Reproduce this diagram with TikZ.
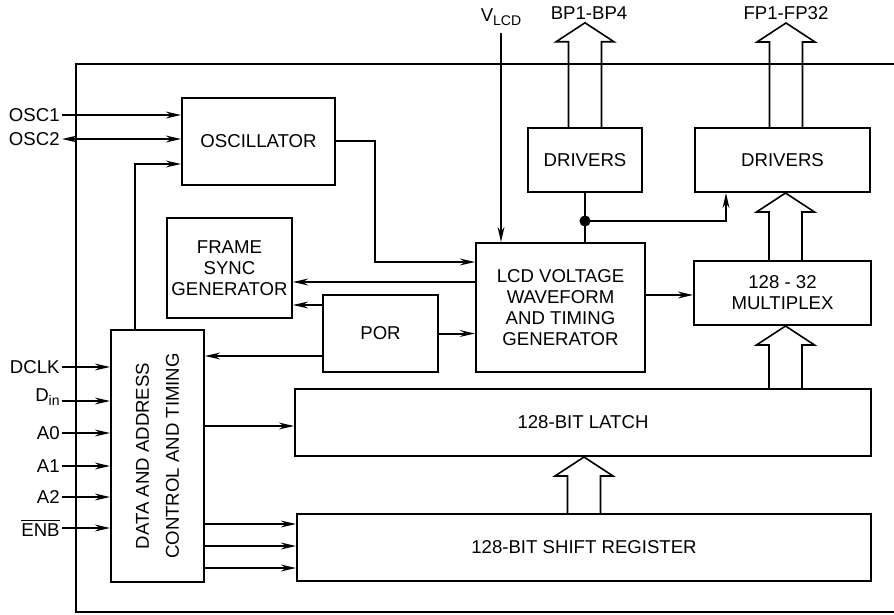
\documentclass[tikz,border=0pt]{standalone}
\usepackage{amsmath}
\usepackage{fontspec}
\setmainfont{Liberation Sans}
\usepackage{tikz}
\usetikzlibrary{arrows.meta,calc,positioning}

% lowered small text for pin names
\newcommand{\lowtext}[1]{\raisebox{-0.45ex}{\fontsize{7}{8}\selectfont #1}}
% hollow bus arrow from #1 (open end) up to #2 (tip)
\newcommand{\busarrow}[2]{%
  \draw[bus] ($(#1)+(-8.25pt,0)$) -- ($(#2)+(-8.25pt,-9.5pt)$) -- ++(-6.25pt,0) -- (#2)
    -- ++(14.5pt,-9.5pt) -- ++(-6.25pt,0) -- ($(#1)+(8.25pt,0)$);}

\begin{document}
\begin{tikzpicture}[x=0.5pt,y=-0.5pt,font=\fontsize{9.3}{10.5}\selectfont,
  >={Stealth[length=7.5pt,width=3.4pt]},
  blk/.style={draw,line width=1pt,align=center,inner sep=2pt},
  pin/.style={inner sep=1pt},
  sig/.style={line width=1pt},
  bus/.style={line width=0.8pt,line join=miter}]
  \useasboundingbox (0,0) rectangle (894,615);
  % chip outline, runs off the right edge
  \draw[line width=0.7pt] (894,64) -| (76,612) -- (894,612);

  \node[blk,minimum width=76.5pt,minimum height=43.5pt] (osc) at (258.5,141.5) {OSCILLATOR};
  \node[blk,minimum width=62.5pt,minimum height=50pt] (fsync) at (229.5,268) {FRAME\\SYNC\\GENERATOR};
  \node[blk,minimum width=57.5pt,minimum height=38.5pt] (por) at (380.5,333.5) {POR};
  \node[blk,minimum width=84.5pt,minimum height=64.5pt] (lcd) at (560.5,307.5) {LCD VOLTAGE\\WAVEFORM\\AND TIMING\\GENERATOR};
  \node[blk,minimum width=57pt,minimum height=32pt] (bpdrv) at (585,160) {DRIVERS};
  \node[blk,minimum width=87.5pt,minimum height=32pt] (fpdrv) at (782.5,160) {DRIVERS};
  \node[blk,minimum width=88.5pt,minimum height=32pt] (mux) at (782.5,293) {128 - 32\\MULTIPLEX};
  \node[blk,minimum width=46.5pt,minimum height=126pt] (ctrl) at (157.5,456) {};
  \node[rotate=90,align=center,font=\fontsize{9.3}{15}\selectfont] (ctrltxt) at (ctrl.center) {DATA AND ADDRESS\\CONTROL AND TIMING};
  \node[blk,minimum width=288pt,minimum height=33.5pt] (latch) at (583,422.5) {128-BIT LATCH};
  \node[blk,minimum width=287pt,minimum height=33.5pt] (shift) at (584,547.5) {128-BIT SHIFT REGISTER};

  % pins on the left
  \node[pin,anchor=east] (osc1) at (62,115) {OSC1};
  \node[pin,anchor=east] (osc2) at (62,139) {OSC2};
  \draw[sig,->] (osc1.east) -- (osc1.east -| osc.west);
  \draw[sig,<->] (osc2.east) -- (osc2.east -| osc.west);
  \foreach \nm/\txt/\yy in {dclk/DCLK/367,a0/A0/433,a1/A1/466,a2/A2/497}{
    \node[pin,anchor=east] (\nm) at (62,\yy) {\txt};
    \draw[sig,->] (\nm.east) -- (\nm.east -| ctrl.west);
  }
  \node[pin,anchor=base east] (din) at (62,401) {D\lowtext{in}};
  \draw[sig,->] (din.base east) -- (din.base east -| ctrl.west);
  \node[pin,anchor=east] (enb) at (62,528) {$\overline{\text{ENB}}$};
  \draw[sig,->] (enb.east) -- (enb.east -| ctrl.west);

  % internal signals
  \draw[sig,->] ([xshift=12.5pt]ctrl.north west) |- ([yshift=-11.25pt]osc.west);
  \draw[sig,->] (osc.east) -- ++(39,0) |- ([yshift=22.75pt]lcd.west);
  \draw[sig,->] ([yshift=12.75pt]lcd.west) coordinate (l1) -- (l1 -| fsync.east);
  \draw[sig,->] ([yshift=14.25pt]por.west) coordinate (p1) -- (p1 -| fsync.east);
  \draw[sig,->] (por.east) -- (por.east -| lcd.west);
  \draw[sig,->] ([yshift=-11.25pt]por.west) coordinate (p2) -- (p2 -| ctrl.east);
  \draw[sig,->] ([yshift=6.25pt]lcd.east) coordinate (l2) -- (l2 -| mux.west);
  \draw[sig,->] ([yshift=15pt]ctrl.east) coordinate (c1) -- (c1 -| latch.west);
  \foreach \dy in {34,45,56}
    \draw[sig,->] ([yshift=-\dy pt]ctrl.east) coordinate (c2) -- (c2 -| shift.west);

  % supply and driver outputs
  \node (vlcd) at (501,17) {V\lowtext{LCD}};
  \draw[sig,->] (vlcd.south) -- (vlcd.south |- lcd.north);
  \draw[sig] (bpdrv.south) -- (bpdrv.south |- lcd.north);
  \coordinate (jn) at ([yshift=-14pt]bpdrv.south);
  \fill (jn) circle (2.8pt);
  \draw[sig,->] (jn) -| ([xshift=16pt]fpdrv.south west);

  \node[inner sep=1.5pt] (bplbl) at (589,13) {BP1-BP4};
  \node[inner sep=1.5pt] (fplbl) at (786,13) {FP1-FP32};
  \busarrow{bpdrv.north}{bpdrv.north |- bplbl.south}
  \coordinate (f1) at ([xshift=1.75pt]fpdrv.north);
  \busarrow{f1}{f1 |- fplbl.south}
  \coordinate (m1) at ([xshift=1.5pt]mux.north);
  \busarrow{m1}{m1 |- fpdrv.south}
  \coordinate (m2) at ([xshift=1.5pt]mux.south);
  \busarrow{m2 |- latch.north}{m2}
  \busarrow{shift.north}{shift.north |- latch.south}
\end{tikzpicture}
\end{document}
